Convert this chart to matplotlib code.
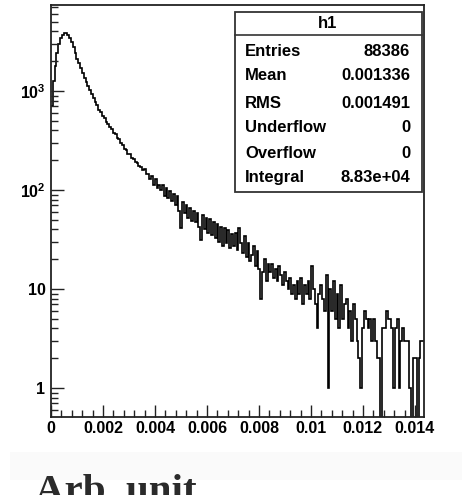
import matplotlib
matplotlib.use("Agg")
import matplotlib.pyplot as plt
from matplotlib.ticker import FixedLocator, FixedFormatter, MultipleLocator
from matplotlib.patches import Rectangle
from matplotlib.lines import Line2D
import numpy as np

plt.rcParams['font.family'] = ['Liberation Sans', 'DejaVu Sans']
plt.rcParams['mathtext.fontset'] = 'custom'
plt.rcParams['mathtext.rm'] = 'Liberation Sans:bold'
plt.rcParams['mathtext.it'] = 'Liberation Sans:bold'

# histogram h1, 205 bins from 0 to 0.01435
x_min, x_max = 0.0, 0.01435
counts = [
    700, 1250, 1800, 2450, 3000, 3400, 3680, 3830, 3860, 3650,
    3400, 3100, 2780, 2420, 2130, 1900, 1700, 1530, 1370, 1240,
    1120, 1030, 925, 860, 770, 725, 650, 610, 560, 530,
    485, 465, 430, 415, 380, 370, 335, 325, 298, 287,
    262, 255, 232, 231, 212, 208, 190, 189, 173, 172,
    160, 162, 144, 146, 128, 138, 112, 130, 104, 112,
    99, 112, 88, 104, 83, 97, 78, 91, 70, 86,
    62, 41, 75, 58, 70, 52, 66, 49, 62, 47,
    59, 42, 31, 56, 40, 52, 37, 51, 35, 47,
    33, 45, 30, 42, 27, 41, 29, 39, 26, 36,
    27, 37, 25, 41, 29, 23, 34, 21, 29, 19,
    22, 27, 17, 24, 16, 8, 15, 20, 12, 18,
    15, 18, 13, 16, 12, 17, 14, 11, 15, 12,
    10, 13, 9, 11, 8, 12, 9, 13, 7, 11,
    9, 12, 8, 17, 10, 7, 4, 9, 11, 8,
    6, 14, 1, 10, 6, 12, 5, 9, 4, 11,
    5, 7, 8, 4, 6, 3, 7, 5, 3, 2,
    1, 4, 6, 5, 4, 5, 3, 5, 3, 2,
    2, 0, 4, 4, 6, 5, 5, 4, 1, 4,
    5, 1, 3, 4, 3, 3, 3, 1, 0, 2,
    2, 0, 2, 3, 3,
]

stat_names = ['Entries', 'Mean', 'RMS', 'Underflow', 'Overflow', 'Integral']
stat_values = ['88386', '0.001336', '0.001491', '0', '0', '8.83e+04']
stat_rows_y = [52, 76, 104, 128, 154, 177]   # pixel rows in the stats box

x_ticks = [0, 0.002, 0.004, 0.006, 0.008, 0.01, 0.012, 0.014]
x_tick_labels = ['0', '0.002', '0.004', '0.006', '0.008', '0.01', '0.012', '0.014']
y_ticks = [1, 10, 100, 1000]
y_tick_labels = ['1', '10', r'$10^{2}$', r'$10^{3}$']

W, H = 463, 495
fx = lambda px: px / W
fy = lambda py: 1 - py / H

fig = plt.figure(figsize=(W / 100, H / 100), dpi=100)
ax = fig.add_axes([fx(51), fy(417), fx(424) - fx(51), fy(5) - fy(417)])

counts = np.array(counts, dtype=float)
edges = np.linspace(x_min, x_max, len(counts) + 1)
shown = np.where(counts > 0, counts, 0.05)
ax.stairs(shown, edges, color='black', lw=1.2, baseline=None)

ax.set_yscale('log')
ax.set_xlim(x_min, x_max)
ax.set_ylim(0.509, 7400)

ax.xaxis.set_major_locator(FixedLocator(x_ticks))
ax.xaxis.set_major_formatter(FixedFormatter(x_tick_labels))
ax.xaxis.set_minor_locator(MultipleLocator(0.0004))
ax.yaxis.set_major_locator(FixedLocator(y_ticks))
ax.yaxis.set_major_formatter(FixedFormatter(y_tick_labels))

ax.tick_params(which='both', direction='in', top=False, right=False, width=1.0, color='#222222')
ax.tick_params(which='major', length=9)
ax.tick_params(which='minor', length=5)
ax.tick_params(axis='x', pad=3, labelsize=11.5)
ax.tick_params(axis='y', pad=4, labelsize=11.5)
for lab in ax.get_xticklabels() + ax.get_yticklabels():
    lab.set_fontweight('bold')
for sp in ax.spines.values():
    sp.set_linewidth(1.3)
    sp.set_color('#222222')

# stats box
box = Rectangle((fx(235), fy(192)), fx(422) - fx(235), fy(12) - fy(192),
                transform=fig.transFigure, facecolor='white', edgecolor='#333333',
                lw=1.3, zorder=5)
fig.add_artist(box)
fig.add_artist(Line2D([fx(235), fx(422)], [fy(35), fy(35)], transform=fig.transFigure,
                      color='#333333', lw=1.2, zorder=6))
fig.text(fx(328), fy(24), 'h1', ha='center', va='center', fontsize=12,
         fontweight='bold', zorder=7)
for name, val, py in zip(stat_names, stat_values, stat_rows_y):
    fig.text(fx(245), fy(py), name, ha='left', va='center', fontsize=12,
             fontweight='bold', zorder=7)
    fig.text(fx(410), fy(py), val, ha='right', va='center', fontsize=12,
             fontweight='bold', zorder=7)

# caption below the chart (cut off at the bottom edge, as in the source image)
fig.add_artist(Rectangle((fx(10), fy(480)), fx(462) - fx(10), fy(452) - fy(480),
                         transform=fig.transFigure, facecolor='#fafafa',
                         edgecolor='none', zorder=0))
fig.text(fx(35), fy(502), 'Arb. unit', ha='left', va='baseline',
         fontfamily='Liberation Serif', fontweight='bold', fontsize=29.5,
         color='#2b2b2b')

fig.savefig('out.png', dpi=100)
